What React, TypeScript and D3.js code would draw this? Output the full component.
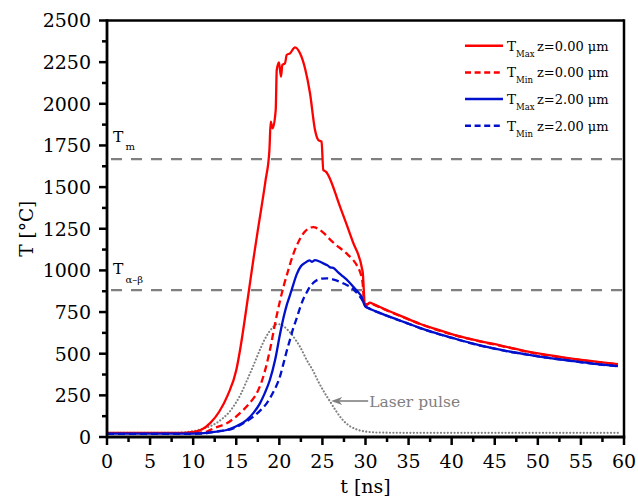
import React from "react";
import * as d3 from "d3";

const WIDTH = 638;
const HEIGHT = 498;
const MARGIN = { left: 107, top: 20.5, right: 14, bottom: 61 };
const FONT = "'DejaVu Serif', serif";
const RED = "#ff0000";
const BLUE = "#0010cc";
const GREY = "#808080";

// tick values
const xTickValues = [0, 5, 10, 15, 20, 25, 30, 35, 40, 45, 50, 55, 60];
const yTickValues = [0, 250, 500, 750, 1000, 1250, 1500, 1750, 2000, 2250, 2500];

// reference temperatures (°C)
const T_MELT = 1668;
const T_ALPHA_BETA = 882;

// [t (ns), T (°C)]
const tMaxZ0: [number, number][] = [
	[0, 25], [9, 25], [10, 30], [11, 45], [12, 85], [13, 150], [14, 250], [15, 400],
	[15.5, 540], [16, 710], [16.5, 890], [17, 1070], [17.5, 1240], [17.9, 1370],
	[18.4, 1540], [18.85, 1723], [19.0, 1893], [19.23, 1853], [19.58, 1963], [19.7, 2203],
	[19.96, 2249], [20.19, 2163], [20.35, 2233], [20.66, 2243], [20.85, 2293], [21.24, 2303],
	[21.82, 2339], [22.4, 2303], [22.98, 2213], [23.56, 2063], [24.14, 1843], [24.52, 1783],
	[24.9, 1773], [25.1, 1603], [25.4, 1593], [27.04, 1383], [28.5, 1175], [29.67, 992],
	[29.94, 786], [30.5, 806], [30.9, 798], [32, 772], [33, 750], [34.5, 718], [36.3, 680],
	[38, 650], [40, 618], [42.5, 585], [45.6, 550], [49.5, 506], [53.35, 475], [57.2, 450], [59.3, 438]
];

const tMinZ0: [number, number][] = [
	[0, 23], [9, 23], [10, 24], [11, 28], [11.6, 33], [12.5, 55], [13.9, 82], [15.4, 142],
	[16.5, 200], [17.37, 262], [18.0, 340], [18.5, 430], [19.0, 545], [19.5, 680],
	[20.0, 800], [20.5, 905], [21.0, 995], [21.6, 1095], [22.3, 1180], [23.0, 1235],
	[23.5, 1255], [23.94, 1260], [24.5, 1250], [25.2, 1222], [25.9, 1185], [26.6, 1152],
	[27.4, 1120], [28.0, 1092], [28.6, 1060], [29.0, 1030], [29.36, 992], [29.67, 922],
	[29.85, 800], [30.2, 797], [30.6, 803], [30.9, 796], [32, 770], [33, 748], [34.5, 716],
	[36.3, 678], [38, 648], [40, 616], [42.5, 583], [45.6, 548], [49.5, 504], [53.35, 473],
	[57.2, 448], [59.3, 436]
];

const tMaxZ2: [number, number][] = [
	[0, 20], [9, 20], [10.8, 22], [12, 28], [13.9, 42], [15, 65], [16.2, 102], [17, 145],
	[17.75, 202], [18.3, 262], [18.9, 342], [19.5, 460], [20.07, 615], [20.5, 720],
	[20.85, 790], [21.2, 845], [21.62, 915], [22.0, 975], [22.5, 1025], [22.98, 1045],
	[23.5, 1060], [23.8, 1052], [24.14, 1062], [24.6, 1055], [25.1, 1042], [25.6, 1030],
	[25.9, 1018], [26.26, 1015], [26.8, 990], [27.42, 962], [28.0, 935], [28.58, 902],
	[29.1, 872], [29.55, 842], [29.94, 786], [30.5, 770], [31.5, 748], [33, 718],
	[34.5, 690], [36.3, 655], [38, 626], [40, 596], [42.5, 560], [45.6, 524], [49.5, 489],
	[53.35, 461], [57.2, 436], [59.3, 426]
];

const tMinZ2: [number, number][] = [
	[0, 19], [9, 19], [10.8, 20], [13, 35], [14.66, 52], [16, 88], [16.98, 122], [17.8, 160],
	[18.53, 202], [19.3, 270], [20.07, 362], [20.5, 445], [20.85, 515], [21.24, 585],
	[21.6, 650], [22.0, 710], [22.4, 775], [22.8, 830], [23.2, 870], [23.56, 902],
	[24.0, 928], [24.5, 945], [25.0, 951], [25.5, 952], [26.2, 946], [27.0, 932],
	[27.6, 918], [28.2, 902], [28.8, 875], [29.36, 842], [29.7, 815], [29.94, 786],
	[30.5, 769], [31.5, 747], [33, 717], [34.5, 689], [36.3, 654], [38, 625], [40, 595],
	[42.5, 559], [45.6, 523], [49.5, 488], [53.35, 460], [57.2, 435], [59.3, 425]
];

const laserPulse: [number, number][] = [
	[0, 25], [8, 25], [9, 28], [10, 35], [11, 48], [12, 65], [12.73, 85], [13.5, 115],
	[14.2, 150], [14.66, 182], [15.5, 255], [16.2, 335], [17.0, 430], [17.8, 530],
	[18.5, 605], [19.2, 655], [19.8, 678], [20.4, 668], [21.2, 630], [22.0, 575],
	[22.4, 542], [23.2, 460], [23.94, 395], [24.5, 335], [25.2, 270], [25.9, 212],
	[26.6, 155], [27.4, 100], [28.2, 65], [29.0, 45], [30.1, 32], [31.5, 27], [35, 25], [59.5, 25]
];

const legendItems = [
	{ sub: "Max", label: "z=0.00 \u03bcm", color: RED, dashed: false },
	{ sub: "Min", label: "z=0.00 \u03bcm", color: RED, dashed: true },
	{ sub: "Max", label: "z=2.00 \u03bcm", color: BLUE, dashed: false },
	{ sub: "Min", label: "z=2.00 \u03bcm", color: BLUE, dashed: true }
];

export default function App() {
	const x = d3.scaleLinear().domain([0, 60]).range([MARGIN.left, WIDTH - MARGIN.right]);
	const y = d3.scaleLinear().domain([0, 2500]).range([HEIGHT - MARGIN.bottom, MARGIN.top]);
	const line = d3.line<[number, number]>()
		.x(d => x(d[0]))
		.y(d => y(d[1]))
		.curve(d3.curveMonotoneX);

	const x0 = x(0), x1 = x(60), y0 = y(0), y1 = y(2500);
	const xMinor = xTickValues.slice(0, -1).map(v => v + 2.5);
	const yMinor = yTickValues.slice(0, -1).map(v => v + 125);

	// arrow for the laser pulse annotation
	const tipX = x(25.9) + 1, tipY = y(222);

	return (
		<svg width={WIDTH} height={HEIGHT} style={{ position: "absolute", left: 0, top: 0, background: "#fff" }}
			fontFamily={FONT}>
			{/* reference levels */}
			{[T_MELT, T_ALPHA_BETA].map(v => (
				<line key={v} x1={x0 + 4} x2={x1} y1={y(v)} y2={y(v)} stroke={GREY} strokeWidth={2.3}
					strokeDasharray="11 9" />
			))}
			<text x={x0 + 6} y={y(T_MELT) - 17} fontSize={15.5}>T</text>
			<text x={x0 + 18.5} y={y(T_MELT) - 9} fontSize={10}>m</text>
			<text x={x0 + 6} y={y(T_ALPHA_BETA) - 16} fontSize={15.5}>T</text>
			<text x={x0 + 18.5} y={y(T_ALPHA_BETA) - 7} fontSize={10}>{"\u03b1\u2013\u03b2"}</text>

			{/* curves */}
			<path d={line(laserPulse) || ""} fill="none" stroke={GREY} strokeWidth={2.1}
				strokeDasharray="0.1 3.3" strokeLinecap="round" />
			<path d={line(tMaxZ0) || ""} fill="none" stroke={RED} strokeWidth={2.3} strokeLinejoin="round" />
			<path d={line(tMinZ0) || ""} fill="none" stroke={RED} strokeWidth={2.3} strokeDasharray="7 4" />
			<path d={line(tMaxZ2) || ""} fill="none" stroke={BLUE} strokeWidth={2.3} strokeLinejoin="round" />
			<path d={line(tMinZ2) || ""} fill="none" stroke={BLUE} strokeWidth={2.3} strokeDasharray="7 4" />

			{/* laser pulse label */}
			<line x1={tipX + 8} x2={tipX + 37} y1={tipY + 1} y2={tipY + 1} stroke={GREY} strokeWidth={1.6} />
			<path d={`M${tipX},${tipY + 1} L${tipX + 11},${tipY - 3} L${tipX + 8},${tipY + 1} L${tipX + 11},${tipY + 5} Z`}
				fill={GREY} />
			<text x={tipX + 38} y={tipY + 6.5} fontSize={15.5} fill={GREY}>Laser pulse</text>

			{/* frame */}
			<line x1={x0} x2={x1} y1={y1} y2={y1} stroke="#000" strokeWidth={2.5} />
			<line x1={x1} x2={x1} y1={y1 - 1.25} y2={y0} stroke="#000" strokeWidth={2.5} />
			<line x1={x0} x2={x1 + 1.25} y1={y0} y2={y0} stroke="#000" strokeWidth={2.8} />
			<line x1={x0} x2={x0} y1={y1 - 1.25} y2={y0 + 1.25} stroke="#000" strokeWidth={2.8} />

			{/* y axis */}
			{yTickValues.map(v => (
				<g key={"y" + v}>
					<line x1={x0 - 8} x2={x0} y1={y(v)} y2={y(v)} stroke="#000" strokeWidth={2.5} />
					<text x={x0 - 16} y={y(v)} dy="0.36em" textAnchor="end" fontSize={19}>{v}</text>
				</g>
			))}
			{yMinor.map(v => (
				<line key={"ym" + v} x1={x0 - 5} x2={x0} y1={y(v)} y2={y(v)} stroke="#000" strokeWidth={2.5} />
			))}

			{/* x axis */}
			{xTickValues.map(v => (
				<g key={"x" + v}>
					<line x1={x(v)} x2={x(v)} y1={y0} y2={y0 + 8} stroke="#000" strokeWidth={2.5} />
					<text x={x(v)} y={y0 + 31} textAnchor="middle" fontSize={19}>{v}</text>
				</g>
			))}
			{xMinor.map(v => (
				<line key={"xm" + v} x1={x(v)} x2={x(v)} y1={y0} y2={y0 + 5} stroke="#000" strokeWidth={2.5} />
			))}

			{/* axis titles */}
			<text x={(x0 + x1) / 2} y={HEIGHT - 5} textAnchor="middle" fontSize={19}>t [ns]</text>
			<text transform={`translate(33, ${(y0 + y1) / 2}) rotate(-90)`} textAnchor="middle" fontSize={18.5}>
				T [°C]
			</text>

			{/* legend */}
			{legendItems.map((d, i) => {
				const ly = 45.7 + i * 26.7;
				return (
					<g key={"leg" + i}>
						<line x1={465} x2={503} y1={ly} y2={ly} stroke={d.color} strokeWidth={2.5}
							strokeDasharray={d.dashed ? "6 3.6" : undefined} />
						<text x={507} y={ly + 5} fontSize={13.5}>T</text>
						<text x={516} y={ly + 11} fontSize={8.5}>{d.sub}</text>
						<text x={537} y={ly + 5} fontSize={13}>{d.label}</text>
					</g>
				);
			})}
		</svg>
	);
}
